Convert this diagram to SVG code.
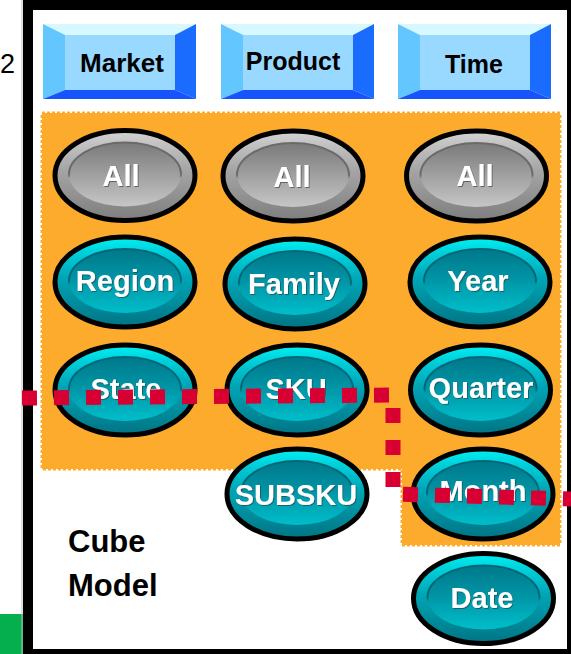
<svg xmlns="http://www.w3.org/2000/svg" xmlns:xlink="http://www.w3.org/1999/xlink" width="571" height="654" viewBox="0 0 571 654">
  <style>
    .hdr { font-family: "Liberation Sans", Arial, sans-serif; font-weight: bold; font-size: 25px; fill: #000; text-anchor: middle; }
    .lvl { font-family: "Liberation Sans", Arial, sans-serif; font-weight: bold; font-size: 29px; fill: #fff; text-anchor: middle; filter: url(#txtShadow); }
    .cap { font-family: "Liberation Sans", Arial, sans-serif; font-weight: bold; font-size: 31px; fill: #000; }
  </style>
  <defs>
    <linearGradient id="tealOuter" x1="0" y1="0" x2="0" y2="1">
      <stop offset="0" stop-color="#00F2F4"/>
      <stop offset="0.15" stop-color="#00D4DE"/>
      <stop offset="0.45" stop-color="#00A6B6"/>
      <stop offset="1" stop-color="#007484"/>
    </linearGradient>
    <linearGradient id="tealInner" x1="0" y1="0" x2="0" y2="1">
      <stop offset="0" stop-color="#00788A"/>
      <stop offset="0.45" stop-color="#0093A4"/>
      <stop offset="1" stop-color="#00BECA"/>
    </linearGradient>
    <linearGradient id="tealEdge" x1="0" y1="0" x2="0" y2="1">
      <stop offset="0" stop-color="#006878"/>
      <stop offset="0.5" stop-color="#006878"/>
      <stop offset="0.56" stop-color="#006878" stop-opacity="0"/>
      <stop offset="1" stop-color="#006878" stop-opacity="0"/>
    </linearGradient>
    <linearGradient id="grayOuter" x1="0" y1="0" x2="0" y2="1">
      <stop offset="0" stop-color="#D4D4D4"/>
      <stop offset="0.15" stop-color="#C2C2C2"/>
      <stop offset="0.45" stop-color="#A4A4A4"/>
      <stop offset="1" stop-color="#7E7E7E"/>
    </linearGradient>
    <linearGradient id="grayInner" x1="0" y1="0" x2="0" y2="1">
      <stop offset="0" stop-color="#7A7A7A"/>
      <stop offset="0.45" stop-color="#9C9C9C"/>
      <stop offset="1" stop-color="#C6C6C6"/>
    </linearGradient>
    <linearGradient id="grayEdge" x1="0" y1="0" x2="0" y2="1">
      <stop offset="0" stop-color="#6A6A6A"/>
      <stop offset="0.5" stop-color="#6A6A6A"/>
      <stop offset="0.56" stop-color="#6A6A6A" stop-opacity="0"/>
      <stop offset="1" stop-color="#6A6A6A" stop-opacity="0"/>
    </linearGradient>
    <filter id="txtShadow" x="-10%" y="-10%" width="130%" height="140%">
      <feDropShadow dx="1" dy="1" stdDeviation="0.6" flood-color="#303030" flood-opacity="0.6"/>
    </filter>

    <!-- bevelled dimension button, 153 x 75 -->
    <g id="bevelBtn">
      <rect x="22" y="11" width="110" height="55" fill="#99D8FF"/>
      <polygon points="0,0 153,0 132,11 22,11" fill="#D8F8FF"/>
      <polygon points="0,0 22,11 22,66 0,75" fill="#64C6FF"/>
      <polygon points="153,0 153,75 132,66 132,11" fill="#1A6CFF"/>
      <polygon points="0,75 22,66 132,66 153,75" fill="#1654FF"/>
    </g>

    <!-- level ovals -->
    <g id="ovalTeal">
      <ellipse rx="70" ry="45" fill="url(#tealOuter)" stroke="#000" stroke-width="5"/>
      <ellipse cy="-1" rx="56" ry="32" fill="url(#tealInner)" stroke="url(#tealEdge)" stroke-width="2"/>
    </g>
    <g id="ovalGray">
      <ellipse rx="70" ry="45" fill="url(#grayOuter)" stroke="#000" stroke-width="5"/>
      <ellipse cy="-1" rx="56" ry="32" fill="url(#grayInner)" stroke="url(#grayEdge)" stroke-width="2"/>
    </g>
  </defs>

  <!-- page background -->
  <rect x="0" y="0" width="571" height="654" fill="#fff"/>
  <text x="0" y="73" font-family="Liberation Sans, Arial, sans-serif" font-size="27" fill="#000">2</text>
  <rect x="0" y="614" width="23" height="40" fill="#05AF4D"/>
  <line x1="22" y1="0" x2="22" y2="654" stroke="#BBBBBB" stroke-width="1"/>

  <!-- selected region -->
  <polygon id="selection" points="42,113 560,113 560,545 402,545 402,469 42,469"
           fill="#FCAB2C" stroke="#FCAB2C" stroke-width="3" stroke-dasharray="3 2"/>

  <!-- frame -->
  <rect x="28" y="5" width="544" height="649" fill="none" stroke="#000" stroke-width="10"/>

  <!-- dimension headers -->
  <g id="hdr-market">
    <use xlink:href="#bevelBtn" x="43" y="24"/>
    <text class="hdr" x="122" y="72" style="font-size:26px">Market</text>
  </g>
  <g id="hdr-product">
    <use xlink:href="#bevelBtn" x="221" y="24"/>
    <text class="hdr" x="293" y="70">Product</text>
  </g>
  <g id="hdr-time">
    <use xlink:href="#bevelBtn" x="398" y="24"/>
    <text class="hdr" x="474" y="73">Time</text>
  </g>

  <!-- Market hierarchy -->
  <g id="market-all">
    <use xlink:href="#ovalGray" x="125" y="175.5"/>
    <text class="lvl" x="121" y="186">All</text>
  </g>
  <g id="market-region">
    <use xlink:href="#ovalTeal" x="125" y="282"/>
    <text class="lvl" x="125" y="291">Region</text>
  </g>
  <g id="market-state">
    <use xlink:href="#ovalTeal" x="125" y="390"/>
    <text class="lvl" x="126" y="399">State</text>
  </g>

  <!-- Product hierarchy -->
  <g id="product-all">
    <use xlink:href="#ovalGray" x="293" y="176"/>
    <text class="lvl" x="292" y="187">All</text>
  </g>
  <g id="product-family">
    <use xlink:href="#ovalTeal" x="295" y="284"/>
    <text class="lvl" x="294" y="294">Family</text>
  </g>
  <g id="product-sku">
    <use xlink:href="#ovalTeal" x="297" y="390"/>
    <text class="lvl" x="296" y="399">SKU</text>
  </g>
  <g id="product-subsku">
    <use xlink:href="#ovalTeal" x="297" y="494"/>
    <text class="lvl" x="296" y="505">SUBSKU</text>
  </g>

  <!-- Time hierarchy -->
  <g id="time-all">
    <use xlink:href="#ovalGray" x="476.5" y="176"/>
    <text class="lvl" x="475" y="186">All</text>
  </g>
  <g id="time-year">
    <use xlink:href="#ovalTeal" x="480" y="282"/>
    <text class="lvl" x="478" y="291">Year</text>
  </g>
  <g id="time-quarter">
    <use xlink:href="#ovalTeal" x="480.5" y="390"/>
    <text class="lvl" x="481" y="398">Quarter</text>
  </g>
  <g id="time-month">
    <use xlink:href="#ovalTeal" x="483" y="494"/>
    <text class="lvl" x="483" y="501">Month</text>
  </g>
  <g id="time-date">
    <use xlink:href="#ovalTeal" x="483.5" y="598.5"/>
    <text class="lvl" x="482" y="608">Date</text>
  </g>

  <!-- cut line through the lattice -->
  <g id="connectors">
    <path d="M22 398 L393 395 L393 494 L571 499" fill="none" stroke="#D80033" stroke-width="15" stroke-dasharray="15 17"/>
  </g>

  <!-- caption -->
  <g id="caption">
    <text class="cap" x="68" y="552">Cube</text>
    <text class="cap" x="68" y="596">Model</text>
  </g>
</svg>
